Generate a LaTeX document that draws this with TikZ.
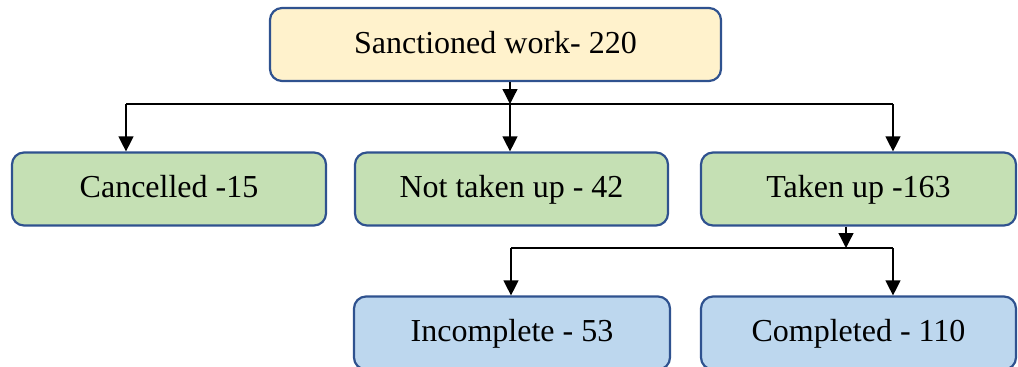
\documentclass[tikz,border=0pt]{standalone}
\usepackage{fontspec}
\setmainfont{Liberation Serif}
\usetikzlibrary{arrows.meta}
\definecolor{bordc}{RGB}{47,82,143}
\definecolor{yelc}{RGB}{255,242,204}
\definecolor{grnc}{RGB}{197,224,180}
\definecolor{bluc}{RGB}{189,215,238}
\tikzset{
  box/.style={draw=bordc, line width=2.2pt, rounded corners=12pt, inner sep=0pt,
    minimum height=73pt, text height=23pt, text depth=6pt,
    font=\fontsize{32}{36}\selectfont, text=black},
  conn/.style={line width=1.3pt, black},
  arr/.style={conn, -{Triangle[width=15pt,length=15pt]}}
}
\begin{document}
\begin{tikzpicture}[x=1pt,y=-1pt]
\useasboundingbox (0,0) rectangle (1018,367);
\node[box, fill=yelc, minimum width=451pt] (top) at (495.5,44.5) {Sanctioned work- 220};
\node[box, fill=grnc, minimum width=314pt] (can) at (169,189) {Cancelled -15};
\node[box, fill=grnc, minimum width=313pt] (not) at (511.5,189) {Not taken up - 42};
\node[box, fill=grnc, minimum width=315pt] (tak) at (858.5,189) {Taken up -163};
\node[box, fill=bluc, minimum width=316pt] (inc) at (512,333) {Incomplete - 53};
\node[box, fill=bluc, minimum width=315pt] (com) at (858.5,333) {Completed - 110};
\coordinate (j1) at (510,104);
\coordinate (l1) at (126,104);
\coordinate (r1) at (893,104);
\coordinate (j2) at (846,248);
\coordinate (l2) at (511,248);
\coordinate (r2) at (893,248);
\draw[arr] (j1 |- top.south) -- (j1);
\draw[conn] (l1) -- (r1);
\draw[arr] (l1) -- (l1 |- can.north);
\draw[arr] (j1) -- (j1 |- not.north);
\draw[arr] (r1) -- (r1 |- tak.north);
\draw[arr] (j2 |- tak.south) -- (j2);
\draw[conn] (l2) -- (r2);
\draw[arr] (l2) -- (l2 |- inc.north);
\draw[arr] (r2) -- (r2 |- com.north);
\end{tikzpicture}
\end{document}
